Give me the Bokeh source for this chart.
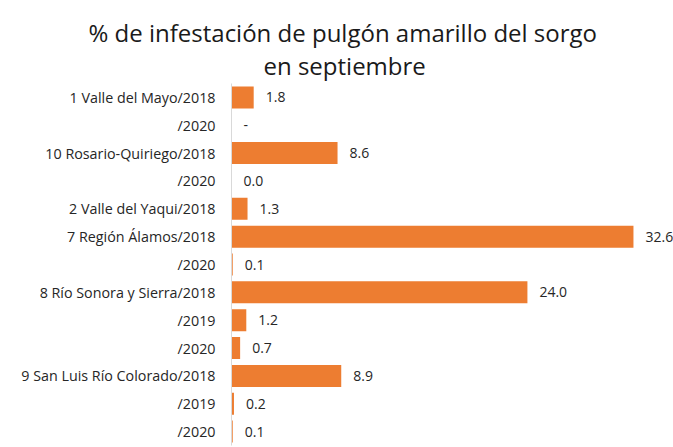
from bokeh.plotting import figure
from bokeh.models import ColumnDataSource, Range1d, FixedTicker, Title
from bokeh.core.properties import value
from bokeh.embed import file_html
from bokeh.resources import INLINE

# ---- data (top to bottom) ----
categories = [
    "1 Valle del Mayo/2018", "/2020",
    "10 Rosario-Quiriego/2018", "/2020",
    "2 Valle del Yaqui/2018",
    "7 Región Álamos/2018", "/2020",
    "8 Río Sonora y Sierra/2018", "/2019", "/2020",
    "9 San Luis Río Colorado/2018", "/2019", "/2020",
]
values = [1.8, None, 8.6, 0.0, 1.3, 32.6, 0.1, 24.0, 1.2, 0.7, 8.9, 0.2, 0.1]
value_labels = ["1.8", "-", "8.6", "0.0", "1.3", "32.6", "0.1", "24.0", "1.2", "0.7", "8.9", "0.2", "0.1"]
title_lines = ["% de infestación de pulgón amarillo del sorgo", "en septiembre"]

FONT = "Open Sans"
BAR = "#ED7D31"
TXT = "#262626"

pos = list(range(len(categories)))
bar_vals = [v if v is not None else 0.0 for v in values]
src = ColumnDataSource(dict(y=pos, v=bar_vals, lab=value_labels))

W, H = 673, 447
frame_left = 231
frame_w = W - frame_left
px_per_unit = 12.33
x_end = frame_w / px_per_unit

p = figure(width=W, height=H, output_backend="svg", toolbar_location=None,
           x_range=Range1d(0, x_end), y_range=Range1d(len(categories) - 0.5, -0.5),
           min_border_left=frame_left, min_border_right=0,
           min_border_top=83, min_border_bottom=2)
p.outline_line_color = None
p.xgrid.visible = False
p.ygrid.visible = False
p.xaxis.visible = False
p.background_fill_color = "white"
p.border_fill_color = "white"

p.hbar(y="y", right="v", left=0, height=0.79, source=src,
       fill_color=BAR, line_color=None)
p.text(x="v", y="y", text="lab", source=src, x_offset=12,
       text_font=value(FONT), text_font_size="14px", text_color=TXT,
       text_baseline="middle", text_align="left")

ya = p.yaxis[0]
ya.ticker = FixedTicker(ticks=pos)
ya.major_label_overrides = {i: c for i, c in zip(pos, categories)}
ya.major_tick_line_color = None
ya.minor_tick_line_color = None
ya.major_tick_out = 0
ya.major_label_standoff = 16
ya.axis_line_color = "#d9d9d9"
ya.major_label_text_font = FONT
ya.major_label_text_font_size = "14.3px"
ya.major_label_text_color = TXT

# two-line title: second line added first (closest to the frame)
t2 = Title(text=title_lines[1], align="left", offset=32, text_font=FONT,
           text_font_size="24px", text_font_style="normal", text_color="#1a1a1a", standoff=4)
t1 = Title(text=title_lines[0], align="left", offset=-143, text_font=FONT,
           text_font_size="24px", text_font_style="normal", text_color="#1a1a1a", standoff=-8)
p.add_layout(t2, "above")
p.add_layout(t1, "above")

open("out.html", "w").write(file_html(p, INLINE))
